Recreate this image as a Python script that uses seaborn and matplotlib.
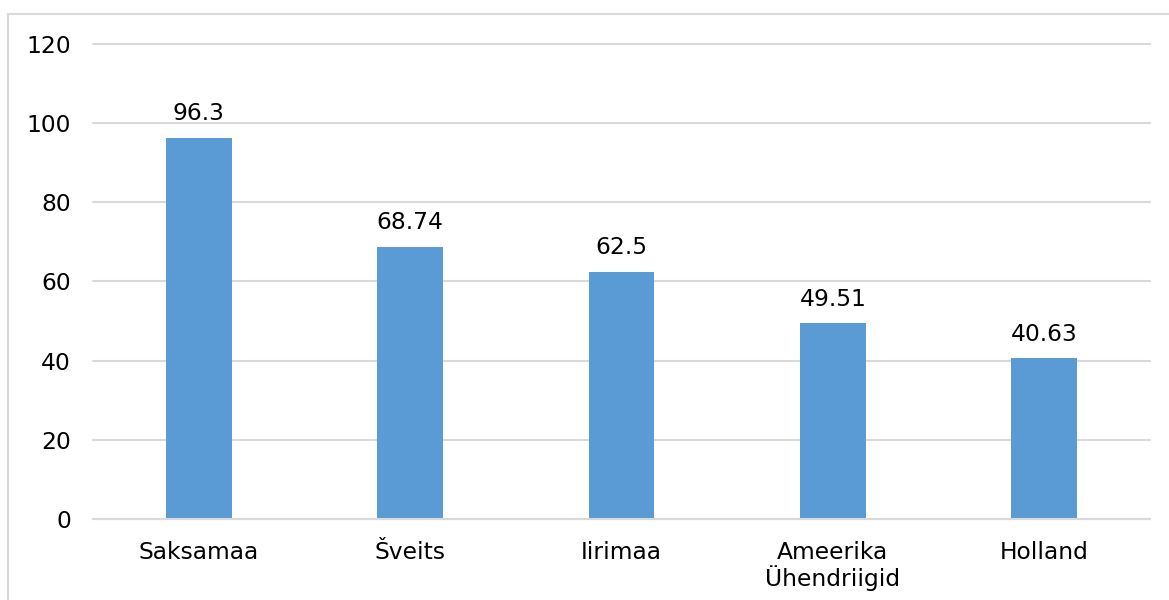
import matplotlib.pyplot as plt
import seaborn as sns
import pandas as pd
from matplotlib.patches import Rectangle

countries = ["Saksamaa", "Šveits", "Iirimaa", "Ameerika\nÜhendriigid", "Holland"]
values = [96.3, 68.74, 62.5, 49.51, 40.63]
value_labels = ["96.3", "68.74", "62.5", "49.51", "40.63"]

df = pd.DataFrame({"country": countries, "value": values})

sns.set_style("white")
plt.rcParams["font.family"] = ["DejaVu Sans"]

fig = plt.figure(figsize=(11.69, 6.0), dpi=100)
ax = fig.add_axes([0.0796, 0.135, 0.9041, 0.7917])

sns.barplot(data=df, x="country", y="value", color="#5B9BD5", saturation=1,
            width=0.31, linewidth=0, ax=ax)

ax.set_ylim(0, 120)
ax.set_yticks(range(0, 121, 20))
ax.yaxis.grid(True, color="#D9D9D9", linewidth=1.5)
for gl in ax.get_ygridlines():
    gl.set_clip_on(False)
ax.set_axisbelow(True)
for side in ["top", "right", "left"]:
    ax.spines[side].set_visible(False)
ax.spines["bottom"].set_color("#D9D9D9")
ax.spines["bottom"].set_linewidth(1.5)

ax.tick_params(axis="both", length=0, labelsize=16.8, colors="black")
ax.tick_params(axis="y", pad=16)
ax.tick_params(axis="x", pad=16)
for lbl in ax.get_xticklabels():
    lbl.set_linespacing(1.05)
ax.set_xlabel("")
ax.set_ylabel("")

ax.bar_label(ax.containers[0], labels=value_labels, padding=9, fontsize=16.8,
             color="black")

# outer chart frame
fig.patches.append(Rectangle((8 / 1169, -0.1), 1.2, 1.1 - 14 / 600,
                             transform=fig.transFigure, fill=False,
                             edgecolor="#D9D9D9", linewidth=1.5, clip_on=False))

fig.savefig("out.png", dpi=100)
